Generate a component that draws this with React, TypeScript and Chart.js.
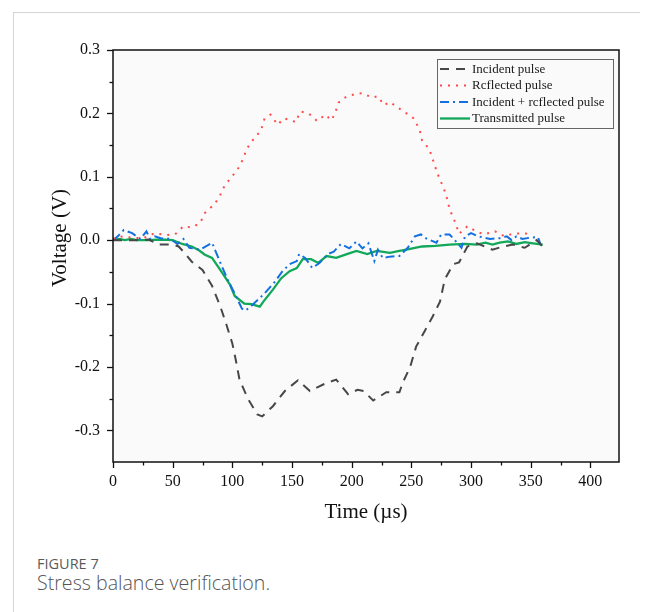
import React, { useEffect, useRef } from "react";
import { Chart, registerables } from "chart.js";

Chart.register(...registerables);

// ---------- data ----------
const incidentT = [0, 10, 20, 30, 38, 50, 55, 60, 66, 75, 83, 90, 95, 100, 103, 106, 113, 121, 125, 134, 144, 155, 165, 177, 187, 197, 205, 210, 218, 229, 240, 243, 249, 254, 261, 268, 274, 278, 285, 290, 297, 305, 318, 327, 335, 345, 355, 360];
const incidentV = [0, 0, 0, 0.001, -0.007, -0.007, -0.01, -0.02, -0.034, -0.047, -0.072, -0.105, -0.133, -0.163, -0.19, -0.22, -0.25, -0.275, -0.278, -0.262, -0.238, -0.221, -0.238, -0.227, -0.22, -0.243, -0.236, -0.238, -0.253, -0.24, -0.24, -0.224, -0.2, -0.168, -0.144, -0.12, -0.097, -0.062, -0.038, -0.035, -0.01, -0.005, -0.015, -0.01, -0.007, -0.012, 0, -0.01];

const reflectedT = [0, 6, 15, 25, 35, 44, 52, 59, 66, 73, 77, 84, 89, 92, 98, 104, 109, 112, 118, 124, 127, 132, 138, 143, 150, 153, 157, 164, 171, 178, 183, 186, 189, 196, 204, 209, 217, 222, 227, 232, 238, 246, 252, 257, 259, 265, 268, 271, 274, 277, 280, 282, 287, 290, 297, 304, 311, 320, 328, 335, 345, 350];
const reflectedV = [0.002, 0.006, 0.004, 0.003, 0.011, 0.008, 0.009, 0.022, 0.02, 0.027, 0.043, 0.055, 0.067, 0.081, 0.097, 0.11, 0.128, 0.144, 0.16, 0.173, 0.192, 0.198, 0.182, 0.192, 0.189, 0.186, 0.203, 0.2, 0.188, 0.198, 0.189, 0.2, 0.217, 0.227, 0.231, 0.232, 0.225, 0.227, 0.213, 0.218, 0.21, 0.2, 0.192, 0.174, 0.157, 0.144, 0.127, 0.11, 0.095, 0.083, 0.065, 0.049, 0.027, 0.01, 0.022, 0.014, 0.009, 0.014, 0.006, 0.01, 0.011, 0.008];

const sumT = [0, 4, 9, 16, 23, 28, 31, 35, 40, 48, 54, 59, 64, 73, 83, 90, 96, 104, 108, 111, 117, 127, 136, 142, 148, 154, 156, 161, 167, 173, 180, 185, 191, 198, 204, 209, 214, 219, 222, 226, 232, 238, 240, 247, 253, 258, 263, 271, 275, 282, 286, 292, 295, 300, 306, 316, 324, 330, 334, 338, 343, 350, 356, 358];
const sumV = [0, 0.006, 0.016, 0.011, 0.002, 0.014, 0.002, 0.006, 0.003, 0.002, -0.006, 0.002, -0.012, -0.015, -0.004, -0.036, -0.062, -0.092, -0.108, -0.111, -0.102, -0.084, -0.065, -0.049, -0.038, -0.033, -0.022, -0.028, -0.044, -0.036, -0.022, -0.018, -0.006, -0.013, -0.002, -0.013, -0.005, -0.033, -0.015, -0.028, -0.026, -0.025, -0.025, -0.012, 0.006, 0.009, 0.002, -0.004, 0.009, 0.009, 0.001, -0.012, 0.006, 0.011, 0.006, 0.002, 0.003, 0.006, 0, 0.006, 0.002, 0.004, 0.005, -0.005];

const transT = [0, 5, 10, 15, 20, 30, 40, 50, 58, 66, 72, 77, 83, 91, 98, 102, 110, 116, 123, 126, 134, 141, 148, 154, 159, 166, 172, 179, 187, 196, 204, 213, 221, 232, 240, 246, 259, 270, 282, 295, 305, 312, 318, 324, 331, 338, 345, 352, 360];
const transV = [0, 0.002, 0, 0.002, 0, 0, 0.001, 0, -0.006, -0.01, -0.016, -0.023, -0.028, -0.05, -0.07, -0.088, -0.1, -0.101, -0.105, -0.097, -0.078, -0.06, -0.049, -0.044, -0.03, -0.03, -0.036, -0.025, -0.028, -0.022, -0.017, -0.022, -0.017, -0.02, -0.017, -0.015, -0.01, -0.009, -0.007, -0.006, -0.007, -0.004, -0.007, -0.004, -0.002, -0.006, -0.003, -0.005, -0.007];

const seriesLabels = ["Incident pulse", "Rcflected pulse", "Incident + rcflected pulse", "Transmitted pulse"];
const xTicks = [0, 50, 100, 150, 200, 250, 300, 350, 400];
const yTicks = [0.3, 0.2, 0.1, 0.0, -0.1, -0.2, -0.3];
const xTitle = "Time (\u00b5s)";
const yTitle = "Voltage (V)";

// ---------- styles ----------
const SERIF = "'Liberation Serif', 'Times New Roman', serif";
const styles = [
  { color: "#474747", dash: [9, 7], width: 2 },
  { color: "#ff4a4a", dash: [2, 6], width: 2 },
  { color: "#1470e0", dash: [9, 4, 2, 4], width: 2 },
  { color: "#12a85a", dash: [] as number[], width: 2.3 },
];

const pts = (t: number[], v: number[]) => t.map((x, i) => ({ x, y: v[i] }));

const decor = {
  id: "decor",
  beforeDraw(chart: any) {
    const { ctx, chartArea: a } = chart;
    ctx.save();
    ctx.fillStyle = "#fafafa";
    ctx.fillRect(a.left, a.top, a.right - a.left, a.bottom - a.top);
    ctx.restore();
  },
  afterDraw(chart: any) {
    const { ctx, chartArea: a, scales } = chart;
    const sx = scales.x;
    const sy = scales.y;
    ctx.save();
    ctx.strokeStyle = "#111";
    ctx.lineWidth = 1.5;
    ctx.setLineDash([]);
    ctx.strokeRect(a.left, a.top, a.right - a.left, a.bottom - a.top);
    const seg = (x1: number, y1: number, x2: number, y2: number) => {
      ctx.beginPath();
      ctx.moveTo(x1, y1);
      ctx.lineTo(x2, y2);
      ctx.stroke();
    };
    ctx.lineWidth = 1.3;
    // x ticks
    xTicks.forEach((t) => {
      const px = Math.round(sx.getPixelForValue(t)) + 0.5;
      seg(px, a.bottom, px, a.bottom + 6);
      const m = t + 25;
      if (m < sx.max) {
        const pm = Math.round(sx.getPixelForValue(m)) + 0.5;
        seg(pm, a.bottom, pm, a.bottom + 3.5);
      }
    });
    // y ticks
    yTicks.forEach((t) => {
      const py = Math.round(sy.getPixelForValue(t)) + 0.5;
      seg(a.left - 6, py, a.left, py);
      const m = t - 0.05;
      if (m > sy.min) {
        const pm = Math.round(sy.getPixelForValue(m)) + 0.5;
        seg(a.left - 3.5, pm, a.left, pm);
      }
    });
    // axis titles
    ctx.fillStyle = "#111";
    ctx.font = `21px ${SERIF}`;
    ctx.textAlign = "center";
    ctx.textBaseline = "middle";
    ctx.fillText(xTitle, (a.left + a.right) / 2, a.bottom + 50);
    ctx.save();
    ctx.translate(a.left - 53, (a.top + a.bottom) / 2 - 18);
    ctx.rotate(-Math.PI / 2);
    ctx.fillText(yTitle, 0, 0);
    ctx.restore();
    // legend
    const bx = 437.5, by = 59.5, bw = 176, bh = 69;
    ctx.fillStyle = "#fafafa";
    ctx.fillRect(bx, by, bw, bh);
    ctx.strokeStyle = "#666";
    ctx.lineWidth = 1;
    ctx.strokeRect(bx, by, bw, bh);
    const rows = [69, 85.5, 102, 118.5];
    ctx.font = `13px ${SERIF}`;
    ctx.textAlign = "left";
    ctx.textBaseline = "middle";
    seriesLabels.forEach((lab, i) => {
      const s = styles[i];
      ctx.strokeStyle = s.color;
      ctx.lineWidth = s.width;
      ctx.setLineDash(s.dash);
      ctx.lineDashOffset = 0;
      seg(440, rows[i], 470, rows[i]);
      ctx.setLineDash([]);
      ctx.fillStyle = "#1a1a1a";
      ctx.fillText(lab, 472, rows[i] + 0.5);
    });
    ctx.restore();
  },
};

function ChartView() {
  const ref = useRef<HTMLCanvasElement | null>(null);
  useEffect(() => {
    if (!ref.current) return;
    const series = [pts(incidentT, incidentV), pts(reflectedT, reflectedV), pts(sumT, sumV), pts(transT, transV)];
    const chart = new Chart(ref.current, {
      type: "line",
      data: {
        datasets: series.map((d, i) => ({
          label: seriesLabels[i],
          data: d,
          borderColor: styles[i].color,
          backgroundColor: styles[i].color,
          borderWidth: styles[i].width,
          borderDash: styles[i].dash,
          pointRadius: 0,
          tension: 0,
          fill: false,
        })),
      },
      options: {
        animation: false,
        responsive: false,
        maintainAspectRatio: false,
        events: [],
        layout: { padding: { left: 0, right: 35, top: 50, bottom: 0 } },
        plugins: { legend: { display: false }, tooltip: { enabled: false }, title: { display: false } },
        scales: {
          x: {
            type: "linear",
            min: 0,
            max: 424,
            grid: { display: false, drawTicks: false },
            border: { display: false },
            afterFit: (s: any) => { s.height = 78; },
            afterBuildTicks: (s: any) => { s.ticks = xTicks.map((v) => ({ value: v })); },
            ticks: {
              padding: 10,
              color: "#111",
              font: { family: SERIF, size: 16 },
              maxRotation: 0,
              autoSkip: false,
              callback: (v: any) => String(v),
            },
          },
          y: {
            type: "linear",
            min: -0.35,
            max: 0.3,
            grid: { display: false, drawTicks: false },
            border: { display: false },
            afterFit: (s: any) => { s.width = 113; },
            afterBuildTicks: (s: any) => { s.ticks = yTicks.map((v) => ({ value: v })); },
            ticks: {
              padding: 13,
              color: "#111",
              font: { family: SERIF, size: 16 },
              autoSkip: false,
              callback: (v: any) => Number(v).toFixed(1),
            },
          },
        },
      },
      plugins: [decor],
    } as any);
    return () => chart.destroy();
  }, []);
  return <canvas ref={ref} width={654} height={540} style={{ position: "absolute", left: 0, top: 0, width: 654, height: 540 }} />;
}

export default function App() {
  return (
    <div style={{ position: "fixed", left: 0, top: 0, width: 654, height: 612, background: "#fff", overflow: "hidden" }}>
      <div style={{ position: "absolute", left: 13, top: 12, width: 627, height: 1, background: "#d4d4d4" }} />
      <div style={{ position: "absolute", left: 13, top: 12, width: 1, height: 600, background: "#d4d4d4" }} />
      <ChartView />
      <div style={{ position: "absolute", left: 37, top: 554, fontFamily: "'Open Sans', sans-serif", fontSize: 14.5, color: "#5a5a5a", lineHeight: "20px" }}>FIGURE 7</div>
      <div style={{ position: "absolute", left: 37, top: 571, fontFamily: "'Open Sans', sans-serif", fontSize: 19.6, fontWeight: 300, color: "#555", lineHeight: "24px" }}>Stress balance verification.</div>
    </div>
  );
}
